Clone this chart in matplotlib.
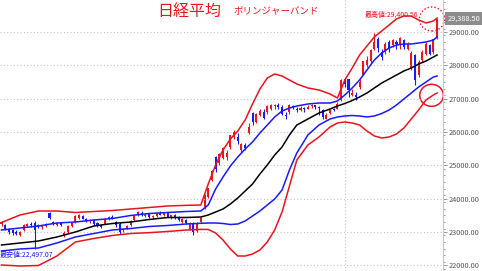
import numpy as np
import matplotlib.pyplot as plt
from matplotlib.patches import Ellipse

plt.rcParams['font.family'] = ['Noto Sans CJK JP', 'DejaVu Sans']
plt.rcParams['axes.unicode_minus'] = False

# 日足 (始値, 高値, 安値, 終値)
opens = [23250, 23200, 23080, 23050, 22990, 22900, 23050, 23180, 23230, 23270,
         23200, 23140, 23180, 23570, 23300, 23200, 23280, 22880, 23000, 23180,
         23300, 23420, 23480, 23380, 23320, 23360, 23260, 23180, 23250, 23400,
         23450, 23300, 23250, 23050, 23100, 23200, 23350, 23500, 23580, 23480,
         23530, 23460, 23480, 23580, 23520, 23570, 23460, 23500, 23420, 23300,
         23350, 23100, 23280, 23020, 23300, 23750, 24050, 24550, 25250, 25070,
         25220, 25250, 25550, 25850, 25850, 25460, 25600, 25970, 26570, 26300,
         26510, 26600, 26600, 26700, 26780, 26820, 26750, 26500, 26600, 26780,
         26700, 26650, 26700, 26700, 26780, 26800, 26740, 26650, 26400, 26560,
         26690, 26700, 26950, 27600, 27580, 27120, 27100, 27340, 27720, 28000,
         28140, 28500, 28800, 28400, 28400, 28700, 28600, 28700, 28600, 28750,
         28500, 27900, 28300, 27700, 28150, 28350, 28600, 28400, 28850]
highs = [23330, 23240, 23120, 23100, 23060, 23020, 23250, 23280, 23300, 23330,
         23240, 23200, 23260, 23610, 23340, 23300, 23300, 23020, 23200, 23300,
         23500, 23530, 23500, 23420, 23400, 23380, 23300, 23230, 23420, 23480,
         23500, 23330, 23300, 23120, 23200, 23350, 23500, 23640, 23620, 23560,
         23580, 23520, 23600, 23620, 23600, 23590, 23520, 23550, 23480, 23420,
         23380, 23300, 23310, 23300, 23450, 24150, 24330, 24860, 25280, 25380,
         25540, 25450, 25920, 26060, 25960, 25680, 25660, 26280, 26600, 26560,
         26700, 26700, 26800, 26850, 26840, 26870, 26800, 26600, 26850, 26800,
         26750, 26780, 26750, 26800, 26840, 26820, 26780, 26680, 26560, 26700,
         26720, 26900, 27600, 27600, 27600, 27280, 27200, 27600, 28140, 28290,
         28500, 28980, 28860, 28500, 28700, 28750, 28800, 28750, 28850, 28800,
         28700, 28420, 28350, 28150, 28450, 28700, 28650, 28800, 29400]
lows = [23180, 23050, 22950, 22920, 22900, 22870, 23020, 23150, 23160, 22497,
        23120, 23080, 23150, 23400, 23200, 23180, 23180, 22850, 22980, 23150,
        23280, 23400, 23380, 23300, 23280, 23220, 23150, 23120, 23230, 23350,
        23380, 23150, 22950, 23000, 23080, 23180, 23330, 23480, 23470, 23450,
        23420, 23380, 23460, 23500, 23490, 23440, 23400, 23380, 23340, 23280,
        23230, 23050, 22900, 23000, 23280, 23700, 24020, 24520, 24800, 25000,
        25180, 25150, 25500, 25800, 25650, 25400, 25450, 25950, 26200, 26280,
        26480, 26400, 26550, 26650, 26700, 26700, 26520, 26400, 26550, 26700,
        26600, 26620, 26600, 26680, 26720, 26700, 26500, 26400, 26380, 26540,
        26620, 26680, 26930, 27340, 27040, 27070, 26950, 27300, 27700, 27950,
        28080, 28450, 28400, 28150, 28350, 28400, 28550, 28500, 28500, 28500,
        28450, 27850, 27400, 27650, 28100, 28300, 28300, 28350, 28800]
closes = [23290, 23080, 23000, 22960, 22940, 22990, 23220, 23240, 23200, 23060,
          23140, 23170, 23230, 23430, 23250, 23280, 23200, 22980, 23180, 23270,
          23480, 23500, 23400, 23330, 23370, 23250, 23180, 23150, 23400, 23450,
          23420, 23200, 23000, 23100, 23180, 23320, 23480, 23600, 23500, 23520,
          23450, 23480, 23570, 23520, 23580, 23460, 23500, 23420, 23360, 23400,
          23260, 23280, 23000, 23280, 23420, 24100, 24320, 24840, 24900, 25350,
          25520, 25380, 25900, 26010, 25730, 25630, 25530, 26160, 26300, 26540,
          26640, 26430, 26790, 26800, 26810, 26750, 26550, 26470, 26820, 26760,
          26650, 26730, 26690, 26760, 26810, 26760, 26710, 26440, 26520, 26670,
          26660, 26850, 27570, 27440, 27260, 27160, 27060, 27490, 28140, 28160,
          28460, 28700, 28520, 28240, 28630, 28520, 28760, 28630, 28820, 28550,
          28640, 28380, 27550, 28100, 28400, 28650, 28350, 28780, 29388]

# ボリンジャーバンド (読み取り値)
band_idx = [0, 5, 10, 15, 20, 25, 30, 35, 40, 45, 50, 54, 56, 58, 60, 62, 64,
            66, 68, 70, 72, 74, 76, 78, 80, 83, 86, 89, 91, 93, 95, 97, 99,
            101, 103, 105, 107, 109, 111, 113, 115, 117, 118]
upper2 = [23285, 23510, 23630, 23630, 23585, 23615, 23645, 23690, 23735, 23780,
          23800, 23810, 24440, 25010, 25460, 25790, 26030, 26360, 26840, 27290,
          27620, 27740, 27680, 27560, 27440, 27320, 27260, 27140, 27020, 27560,
          27920, 28310, 28580, 28850, 29030, 29210, 29390, 29480, 29480, 29360,
          29270, 29330, 29420]
upper1 = [23060, 23120, 23180, 23270, 23300, 23360, 23405, 23495, 23555, 23585,
          23615, 23630, 23810, 24290, 24650, 24980, 25250, 25490, 25700, 25970,
          26210, 26450, 26630, 26720, 26780, 26840, 26870, 26870, 26930, 27110,
          27320, 27560, 27860, 28160, 28370, 28520, 28610, 28640, 28640, 28670,
          28700, 28760, 28850]
middle = [22610, 22670, 22730, 22850, 23000, 23180, 23255, 23300, 23375, 23435,
          23435, 23450, 23510, 23600, 23690, 23840, 24020, 24230, 24440, 24740,
          25010, 25310, 25550, 25910, 26210, 26390, 26570, 26690, 26780, 26855,
          26945, 27050, 27170, 27320, 27470, 27590, 27710, 27830, 27920, 28040,
          28130, 28250, 28310]
lower1 = [22430, 22490, 22520, 22670, 22850, 22955, 23060, 23105, 23165, 23195,
          23240, 23260, 23270, 23270, 23255, 23225, 23240, 23330, 23480, 23630,
          23810, 23990, 24260, 24860, 25370, 25910, 26210, 26390, 26450, 26480,
          26495, 26480, 26450, 26480, 26555, 26660, 26810, 26990, 27170, 27350,
          27500, 27650, 27680]
lower2 = [22010, 21980, 21995, 22280, 22700, 22805, 22895, 22955, 22980, 23015,
          23060, 23080, 23075, 22970, 22760, 22490, 22280, 22280, 22340, 22460,
          22700, 23060, 23600, 24380, 25160, 25610, 25850, 26150, 26270, 26300,
          26270, 26210, 26030, 25880, 25820, 25850, 25940, 26120, 26390, 26660,
          26960, 27110, 27170]

high_label = '最高値:29,400.56'
low_label = '最安値:22,497.07'
last_label = '29,388.50'

RED = '#e8141e'
BLUE = '#1a1aff'

fig = plt.figure(figsize=(4.82, 2.71), dpi=100)
ax = fig.add_axes([0, 0, 443 / 482, 1])
ax.set_xlim(-0.41, 119.6)
ax.set_ylim(21830, 29960)

# グリッド
ax.set_yticks(np.arange(22000, 29001, 1000))
ax.set_yticks(np.arange(21900, 29960, 200), minor=True)
ax.yaxis.set_major_formatter(plt.FuncFormatter(lambda v, p: f'{v:.2f}'))
ax.grid(axis='y', which='major', ls=(0, (1, 2)), color='#c4c4c4', lw=0.8)
ax.axvline(93.1, ls=(0, (1, 2)), color='#c4c4c4', lw=0.8)
ax.set_xticks([])
ax.yaxis.tick_right()
ax.tick_params(axis='y', which='major', labelsize=5.3, colors='#9a9a9a',
               labelcolor='#555555', length=3, width=0.7, pad=1)
ax.tick_params(axis='y', which='minor', colors='#9a9a9a', length=1.5, width=0.7)
for s in ['left', 'top', 'bottom']:
    ax.spines[s].set_visible(False)
ax.spines['right'].set_color('#c8c8c8')

# ローソク足
for i in range(len(closes)):
    o, h, l, c = opens[i], highs[i], lows[i], closes[i]
    col = RED if c >= o else BLUE
    ax.vlines(i, l, h, color=col, lw=0.8)
    ax.bar(i, max(abs(c - o), 20), bottom=min(o, c), width=0.55, color=col, lw=0)

# バンド
ax.plot(band_idx, upper2, color=RED, lw=1.1)
ax.plot(band_idx, upper1, color=BLUE, lw=1.1)
ax.plot(band_idx, middle, color='black', lw=1.1)
ax.plot(band_idx, lower1, color=BLUE, lw=1.1)
ax.plot(band_idx, lower2, color=RED, lw=1.1)

# 丸印
ax.add_patch(Ellipse((116.6, 29390), 6.8, 720, fill=False, ec=RED, lw=1.0,
                     ls=(0, (1, 1.5)), clip_on=False))
ax.add_patch(Ellipse((116.5, 27100), 6.4, 660, fill=False, ec=RED, lw=1.1,
                     clip_on=False))

# テキスト
fig.text(189 / 482, 1 - 11 / 271, '日経平均', color=RED, fontsize=11.5,
         ha='center', va='center')
fig.text(276 / 482, 1 - 12 / 271, 'ボリンジャーバンド', color=RED, fontsize=6.8,
         ha='center', va='center')
fig.text(365 / 482, 1 - 15 / 271, high_label, color=RED, fontsize=5,
         ha='left', va='center')
fig.text(0, 1 - 255 / 271, low_label, color=BLUE, fontsize=5,
         ha='left', va='center')
fig.text(464 / 482, 1 - 18.5 / 271, last_label, color='white', fontsize=5.3,
         ha='center', va='center',
         bbox=dict(fc='#8c8c8c', ec='none', boxstyle='square,pad=0.35'))

fig.savefig('out.png', dpi=100)
